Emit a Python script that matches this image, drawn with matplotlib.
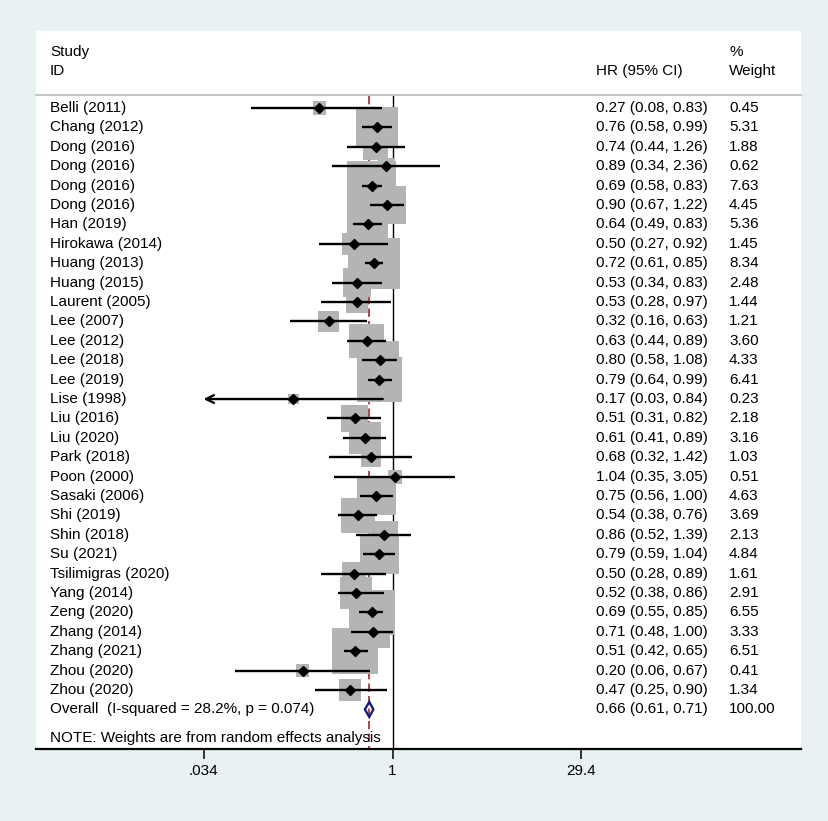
import numpy as np
import matplotlib
matplotlib.use("Agg")
import matplotlib.pyplot as plt
from matplotlib.transforms import blended_transform_factory
from matplotlib.patches import Polygon

plt.rcParams['font.family'] = ['Liberation Sans', 'DejaVu Sans']

# study data
studies = ["Belli (2011)", "Chang (2012)", "Dong (2016)", "Dong (2016)", "Dong (2016)",
           "Dong (2016)", "Han (2019)", "Hirokawa (2014)", "Huang (2013)", "Huang (2015)",
           "Laurent (2005)", "Lee (2007)", "Lee (2012)", "Lee (2018)", "Lee (2019)",
           "Lise (1998)", "Liu (2016)", "Liu (2020)", "Park (2018)", "Poon (2000)",
           "Sasaki (2006)", "Shi (2019)", "Shin (2018)", "Su (2021)", "Tsilimigras (2020)",
           "Yang (2014)", "Zeng (2020)", "Zhang (2014)", "Zhang (2021)", "Zhou (2020)",
           "Zhou (2020)"]
hr = [0.27, 0.76, 0.74, 0.89, 0.69, 0.90, 0.64, 0.50, 0.72, 0.53,
      0.53, 0.32, 0.63, 0.80, 0.79, 0.17, 0.51, 0.61, 0.68, 1.04,
      0.75, 0.54, 0.86, 0.79, 0.50, 0.52, 0.69, 0.71, 0.51, 0.20, 0.47]
ci_lo = [0.08, 0.58, 0.44, 0.34, 0.58, 0.67, 0.49, 0.27, 0.61, 0.34,
         0.28, 0.16, 0.44, 0.58, 0.64, 0.03, 0.31, 0.41, 0.32, 0.35,
         0.56, 0.38, 0.52, 0.59, 0.28, 0.38, 0.55, 0.48, 0.42, 0.06, 0.25]
ci_hi = [0.83, 0.99, 1.26, 2.36, 0.83, 1.22, 0.83, 0.92, 0.85, 0.83,
         0.97, 0.63, 0.89, 1.08, 0.99, 0.84, 0.82, 0.89, 1.42, 3.05,
         1.00, 0.76, 1.39, 1.04, 0.89, 0.86, 0.85, 1.00, 0.65, 0.67, 0.90]
weight = [0.45, 5.31, 1.88, 0.62, 7.63, 4.45, 5.36, 1.45, 8.34, 2.48,
          1.44, 1.21, 3.60, 4.33, 6.41, 0.23, 2.18, 3.16, 1.03, 0.51,
          4.63, 3.69, 2.13, 4.84, 1.61, 2.91, 6.55, 3.33, 6.51, 0.41, 1.34]

overall_label = "Overall  (I-squared = 28.2%, p = 0.074)"
overall = [0.66, 0.61, 0.71]
overall_weight = 100.00
note = "NOTE: Weights are from random effects analysis"

xticks = [0.034, 1, 29.4]
xtick_labels = [".034", "1", "29.4"]

fig = plt.figure(figsize=(8.29, 8.21), dpi=100, facecolor='#e8f1f3')
ax = fig.add_axes([36 / 829, 1 - 749 / 821, 765 / 829, 718 / 821])
ax.set_facecolor('white')

ax.set_xscale('log')
ax.set_xlim(10 ** -2.770, 10 ** 3.174)
n = len(studies)
rows = np.arange(n)
ax.set_ylim(33.04, -3.97)

for s in ['top', 'right', 'left']:
    ax.spines[s].set_visible(False)
ax.spines['bottom'].set_linewidth(1.6)
ax.set_yticks([])
ax.set_xticks(xticks)
ax.set_xticklabels(xtick_labels, fontsize=11)
ax.minorticks_off()
ax.tick_params(axis='x', length=7, width=1.1, pad=4)

tr = blended_transform_factory(ax.transAxes, ax.transData)

# header
ax.text(0.0183, -2.89, "Study", transform=tr, fontsize=11, va='center')
ax.text(0.0183, -1.91, "ID", transform=tr, fontsize=11, va='center')
ax.text(0.732, -1.91, "HR (95% CI)", transform=tr, fontsize=11, va='center')
ax.text(0.906, -2.89, "%", transform=tr, fontsize=11, va='center')
ax.text(0.906, -1.91, "Weight", transform=tr, fontsize=11, va='center')
ax.plot([0, 1], [-0.67, -0.67], transform=tr, color='#c4c4c4', lw=1.5, clip_on=False)

# reference lines
ax.plot([1, 1], [-0.62, 33.04], color='black', lw=1.0, zorder=1)
ax.plot([overall[0]] * 2, [-0.62, 33.04], color='#a3262a', lw=1.2,
        linestyle=(0, (5, 2.5)), zorder=1)

# weight boxes
side_pt = (2 + 17.1 * np.sqrt(weight)) * 0.72
ax.scatter(hr, rows, s=side_pt ** 2, marker='s', color='#b4b4b4',
           edgecolors='none', zorder=2)

xmin = xticks[0]
for i in range(n):
    if ci_lo[i] < xmin:
        ax.annotate('', xy=(xmin, i), xytext=(ci_hi[i], i),
                    arrowprops=dict(arrowstyle='->', lw=1.7, color='black',
                                    shrinkA=0, shrinkB=0, mutation_scale=14),
                    zorder=3)
    else:
        ax.plot([ci_lo[i], ci_hi[i]], [i, i], color='black', lw=1.7,
                solid_capstyle='butt', zorder=3)
    ax.text(0.0183, i, studies[i], transform=tr, fontsize=11, va='center')
    ax.text(0.732, i, f"{hr[i]:.2f} ({ci_lo[i]:.2f}, {ci_hi[i]:.2f})",
            transform=tr, fontsize=11, va='center')
    ax.text(0.906, i, f"{weight[i]:.2f}", transform=tr, fontsize=11, va='center')

ax.plot(hr, rows, 'D', color='black', ms=4.6, zorder=4)

# overall diamond
yo = n
h = 0.39
diamond = Polygon([(overall[1], yo), (overall[0], yo - h), (overall[2], yo),
                   (overall[0], yo + h)], closed=True, fill=False,
                  edgecolor='#1c1c78', lw=1.7, zorder=4)
ax.add_patch(diamond)
ax.text(0.0183, yo, overall_label, transform=tr, fontsize=11, va='center')
ax.text(0.732, yo, f"{overall[0]:.2f} ({overall[1]:.2f}, {overall[2]:.2f})",
        transform=tr, fontsize=11, va='center')
ax.text(0.906, yo, f"{overall_weight:.2f}", transform=tr, fontsize=11, va='center')

ax.text(0.0183, 32.47, note, transform=tr, fontsize=11, va='center')

fig.savefig("out.png", dpi=100, facecolor=fig.get_facecolor())
